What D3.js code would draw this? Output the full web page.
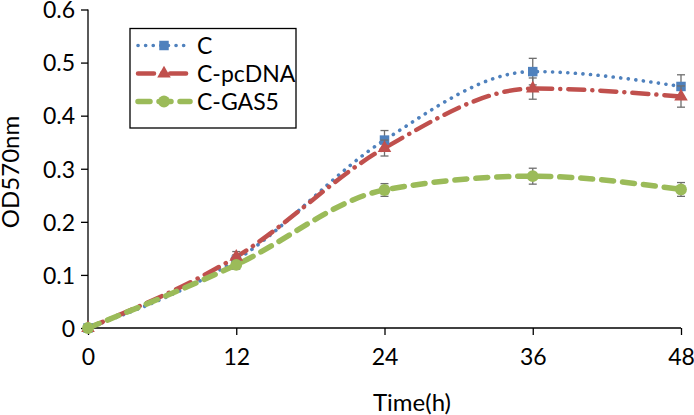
<!DOCTYPE html>
<html><head><meta charset="utf-8">
<script src="https://cdn.jsdelivr.net/npm/d3@7"></script>
<style>body{margin:0;background:#fff}svg{display:block}text{font-family:Lato,"Open Sans",sans-serif;fill:#000}</style>
</head><body><svg id="c" width="694" height="415"></svg>
<script>
const times = [0, 12, 24, 36, 48];
const xTicks = [0, 12, 24, 36, 48];
const yTicks = [0, 0.1, 0.2, 0.3, 0.4, 0.5, 0.6];
const seriesNames = ["C", "C-pcDNA", "C-GAS5"];
const valuesC = [0, 0.128, 0.354, 0.483, 0.455];
const errC = [0, 0.01, 0.018, 0.025, 0.022];
const valuesPc = [0, 0.134, 0.339, 0.451, 0.436];
const errPc = [0, 0.01, 0.015, 0.02, 0.02];
const valuesGas = [0, 0.119, 0.26, 0.286, 0.261];
const errGas = [0, 0.008, 0.012, 0.015, 0.013];

const svg = d3.select("#c");
const x = d3.scaleLinear().domain([0, 48]).range([88, 681]);
const y = d3.scaleLinear().domain([0, 0.6]).range([328, 9.5]);

const series = [
  {name: seriesNames[0], v: valuesC, e: errC, color: "#4F81BD", dash: "0.1 7.5", w: 3.6, cap: "round", marker: d3.symbolSquare, msize: 90},
  {name: seriesNames[1], v: valuesPc, e: errPc, color: "#C0504D", dash: "16 8 0.1 8", w: 4.5, cap: "round", marker: d3.symbolTriangle, msize: 80},
  {name: seriesNames[2], v: valuesGas, e: errGas, color: "#9BBB59", dash: "12 9", w: 5.5, cap: "round", marker: d3.symbolCircle, msize: 110}
];

const FS = 23;
// axes
const yAxis = d3.axisLeft(y).tickValues(yTicks).tickSize(7).tickPadding(6).tickFormat(d => d === 0 ? "0" : d3.format(".1f")(d));
const gy = svg.append("g").attr("transform", "translate(88,0)").call(yAxis);
const xAxis = d3.axisBottom(x).tickValues(xTicks).tickSize(7).tickPadding(14).tickFormat(d3.format("d"));
const gx = svg.append("g").attr("transform", "translate(0,328)").call(xAxis);
[gx, gy].forEach(g => {
  g.select(".domain").attr("stroke", "#000").attr("stroke-width", 1.3);
  g.selectAll(".tick line").attr("stroke", "#000").attr("stroke-width", 1.3);
  g.selectAll("text").attr("font-size", FS).attr("font-family", "Lato, 'Open Sans', sans-serif").attr("fill", "#000");
});
gy.selectAll(".tick text").attr("dy", "0.36em");
gy.select(".domain").attr("d", `M-0,${y(0.6)}V${y(0)}`);
gx.select(".domain").attr("d", `M${x(0)},0H${x(48)}`);

svg.append("text").attr("x", 412).attr("y", 411).attr("text-anchor", "middle").attr("font-size", 24).text("Time(h)");
svg.append("text").attr("transform", "translate(19,172) rotate(-90)").attr("text-anchor", "middle").attr("font-size", 24).text("OD570nm");

const line = d3.line().x((d, i) => x(times[i])).y(d => y(d)).curve(d3.curveMonotoneX);

series.forEach(s => {
  svg.append("path").datum(s.v).attr("d", line).attr("fill", "none")
    .attr("stroke", s.color).attr("stroke-width", s.w).attr("stroke-dasharray", s.dash).attr("stroke-linecap", s.cap);
});
series.forEach(s => {
  const g = svg.append("g");
  s.v.forEach((v, i) => {
    if (s.e[i] > 0) {
      const cx = x(times[i]);
      g.append("line").attr("x1", cx).attr("x2", cx).attr("y1", y(v - s.e[i])).attr("y2", y(v + s.e[i])).attr("stroke", "#6e6e6e").attr("stroke-width", 1.3);
      [v - s.e[i], v + s.e[i]].forEach(t => g.append("line").attr("x1", cx - 4).attr("x2", cx + 4).attr("y1", y(t)).attr("y2", y(t)).attr("stroke", "#6e6e6e").attr("stroke-width", 1.3));
    }
  });
  s.v.forEach((v, i) => {
    g.append("path").attr("d", d3.symbol(s.marker, s.msize)()).attr("transform", `translate(${x(times[i])},${y(v)})`).attr("fill", s.color);
  });
});

// legend
const lg = svg.append("g");
lg.append("rect").attr("x", 130).attr("y", 28.5).attr("width", 166).attr("height", 99.5).attr("fill", "#fff").attr("stroke", "#000").attr("stroke-width", 1.3);
series.forEach((s, i) => {
  const yy = 45.5 + i * 28;
  lg.append("line").attr("x1", 138).attr("x2", 190).attr("y1", yy).attr("y2", yy).attr("stroke", s.color).attr("stroke-width", s.w).attr("stroke-dasharray", s.dash).attr("stroke-linecap", s.cap);
  lg.append("path").attr("d", d3.symbol(s.marker, s.msize)()).attr("transform", `translate(164,${yy})`).attr("fill", s.color);
  lg.append("text").attr("x", 197).attr("y", yy + 8).attr("font-size", FS).text(s.name);
});
</script></body></html>
